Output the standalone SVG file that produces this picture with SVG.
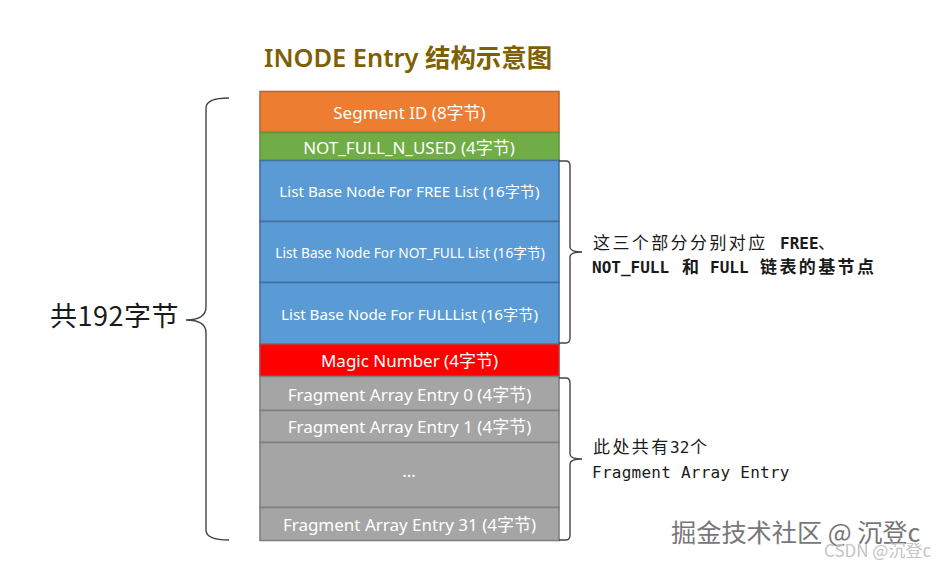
<svg xmlns="http://www.w3.org/2000/svg" width="937" height="565" viewBox="0 0 937 565">
<style>
.b{stroke-width:1.6}
.o{fill:#ed7d31;stroke:#b9683a}
.g{fill:#70ad47;stroke:#5f9440}
.u{fill:#5b9bd5;stroke:#41719c}
.r{fill:#ff0000;stroke:#b43a3a}
.y{fill:#a5a5a5;stroke:#808080}
.l{font-family:"Noto Sans","Noto Sans CJK SC",sans-serif;fill:#fff;text-anchor:middle;font-size:17px}
.s{font-size:15.2px}
.m{font-family:"DejaVu Sans Mono","Liberation Mono","Noto Sans CJK SC",monospace;font-size:16px;fill:#1a1a1a}
.c{letter-spacing:2.4px;font-size:17px;font-family:"Noto Sans CJK SC",sans-serif}
.d{font-weight:700}
.k{fill:none;stroke:#444;stroke-width:1.4}
</style>
<rect width="937" height="565" fill="#fff"/>
<text id="title" x="264" y="67" font-family="'Noto Sans','Noto Sans CJK SC',sans-serif" font-weight="600" font-size="25.400" fill="#7f6000">INODE Entry 结构示意图</text>
<g id="segment"><rect class="b o" x="260" y="91.500" width="299" height="41"/><text class="l" x="409.500" y="119">Segment ID (8字节)</text></g>
<g id="notfull"><rect class="b g" x="260" y="132.500" width="299" height="28"/><text class="l" x="409" y="153.500">NOT_FULL_N_USED (4字节)</text></g>
<g id="free"><rect class="b u" x="260" y="160.500" width="299" height="61"/><text class="l s" x="409.500" y="197">List Base Node For FREE List (16字节)</text></g>
<g id="notfulllist"><rect class="b u" x="260" y="221.500" width="299" height="61"/><text class="l s" x="410" y="258" style="font-size:13.7px">List Base Node For NOT_FULL List (16字节)</text></g>
<g id="fulllist"><rect class="b u" x="260" y="282.500" width="299" height="62"/><text class="l s" x="409.500" y="319.500">List Base Node For FULLList (16字节)</text></g>
<g id="magic"><rect class="b r" x="260" y="344.500" width="299" height="32"/><text class="l" x="409.500" y="367">Magic Number (4字节)</text></g>
<g id="frag0"><rect class="b y" x="260" y="376.500" width="299" height="34"/><text class="l" x="409.500" y="400.500">Fragment Array Entry 0 (4字节)</text></g>
<g id="frag1"><rect class="b y" x="260" y="410.500" width="299" height="32"/><text class="l" x="409.500" y="433">Fragment Array Entry 1 (4字节)</text></g>
<g id="fragdots"><rect class="b y" x="260" y="442.500" width="299" height="65"/><text class="l" x="409" y="477">...</text></g>
<g id="frag31"><rect class="b y" x="260" y="507.500" width="299" height="33"/><text class="l" x="409.500" y="531">Fragment Array Entry 31 (4字节)</text></g>
<g id="connectors">
<path class="k" d="M229 98Q206 98 206 108V307Q206 320 186 320Q206 320 206 333V530Q206 540 229 540"/>
<path class="k" d="M559 161H566Q570 161 570 166V247Q570 252 582 252Q570 252 570 257V338Q570 343 566 343H559"/>
<path class="k" d="M559 378H566Q570 378 570 383V454Q570 459 582 459Q570 459 570 464V535Q570 540 566 540H559"/>
</g>
<g id="labels">
<text x="50" y="326" font-family="'Noto Sans CJK SC','Liberation Sans',sans-serif" font-size="27" letter-spacing="0.500" fill="#1a1a1a">共192字节</text>
<text class="m" y="249"><tspan class="c" x="593">这三个部分分别对应</tspan><tspan class="d" x="780">FREE</tspan><tspan class="c" x="818">、</tspan></text>
<text class="m d" y="273"><tspan x="592">NOT_FULL</tspan><tspan class="c" x="682">和</tspan><tspan x="710">FULL</tspan><tspan class="c" x="760">链表的基节点</tspan></text>
<text class="m" y="453"><tspan class="c" x="593">此处共有</tspan><tspan x="670">32</tspan><tspan class="c" x="690">个</tspan></text>
<text class="m" x="592" y="478" letter-spacing="0.250">Fragment Array Entry</text>
</g>
<g id="watermark" font-family="'Noto Sans CJK SC','Liberation Sans',sans-serif">
<text x="671" y="542" font-size="25.200" fill="#777">掘金技术社区 @ 沉登c</text>
<text x="824" y="557" font-size="17" fill="#c4c4c4">CSDN @沉登c</text>
</g>
</svg>
